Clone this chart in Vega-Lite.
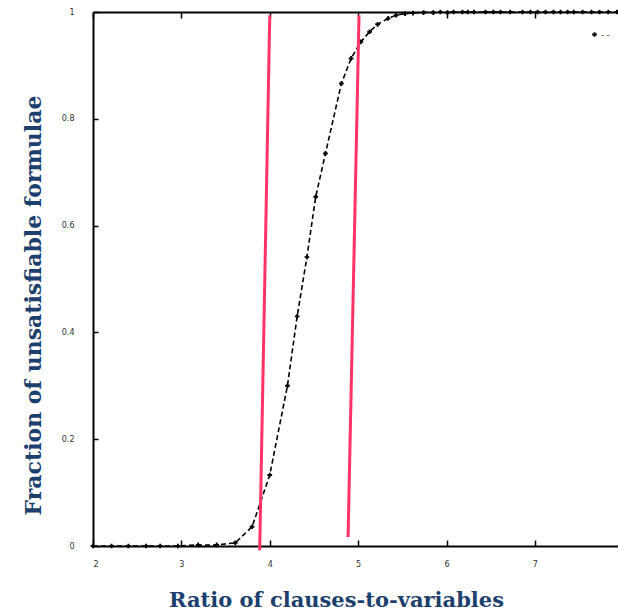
{
  "$schema": "https://vega.github.io/schema/vega-lite/v6.json",
  "width": 525,
  "height": 534,
  "autosize": {"type": "none"},
  "padding": {"left": 93, "top": 12, "right": 0, "bottom": 67},
  "background": "white",
  "config": {"view": {"stroke": null}},
  "datasets": {
    "curve": [
      {"ratio": 2.0, "frac": 0.0}, {"ratio": 2.21, "frac": 0.0}, {"ratio": 2.4, "frac": 0.0},
      {"ratio": 2.6, "frac": 0.0}, {"ratio": 2.76, "frac": 0.0}, {"ratio": 2.96, "frac": 0.0},
      {"ratio": 3.19, "frac": 0.002}, {"ratio": 3.4, "frac": 0.002}, {"ratio": 3.61, "frac": 0.006},
      {"ratio": 3.8, "frac": 0.036}, {"ratio": 4.0, "frac": 0.133}, {"ratio": 4.2, "frac": 0.3},
      {"ratio": 4.31, "frac": 0.43}, {"ratio": 4.42, "frac": 0.541}, {"ratio": 4.52, "frac": 0.654},
      {"ratio": 4.63, "frac": 0.735}, {"ratio": 4.81, "frac": 0.866}, {"ratio": 4.92, "frac": 0.913},
      {"ratio": 5.03, "frac": 0.944}, {"ratio": 5.13, "frac": 0.963}, {"ratio": 5.22, "frac": 0.977},
      {"ratio": 5.34, "frac": 0.988}, {"ratio": 5.43, "frac": 0.994}, {"ratio": 5.53, "frac": 0.997},
      {"ratio": 5.62, "frac": 0.998}, {"ratio": 5.74, "frac": 0.999}, {"ratio": 5.85, "frac": 0.999},
      {"ratio": 5.93, "frac": 1.0}, {"ratio": 6.01, "frac": 0.999}, {"ratio": 6.08, "frac": 1.0},
      {"ratio": 6.18, "frac": 1.0}, {"ratio": 6.24, "frac": 1.0}, {"ratio": 6.31, "frac": 1.0},
      {"ratio": 6.44, "frac": 1.0}, {"ratio": 6.53, "frac": 1.0}, {"ratio": 6.61, "frac": 1.0},
      {"ratio": 6.72, "frac": 1.0}, {"ratio": 6.86, "frac": 1.0}, {"ratio": 6.95, "frac": 1.0},
      {"ratio": 7.03, "frac": 1.0}, {"ratio": 7.12, "frac": 1.0}, {"ratio": 7.21, "frac": 1.0},
      {"ratio": 7.29, "frac": 1.0}, {"ratio": 7.37, "frac": 1.0}, {"ratio": 7.44, "frac": 1.0},
      {"ratio": 7.54, "frac": 1.0}, {"ratio": 7.64, "frac": 1.0}, {"ratio": 7.73, "frac": 1.0},
      {"ratio": 7.83, "frac": 1.0}, {"ratio": 7.93, "frac": 1.0}
    ],
    "redlines": [
      {"xa": 4.0, "ya": 0.994, "xb": 3.886, "yb": -0.008},
      {"xa": 5.01, "ya": 0.994, "xb": 4.886, "yb": 0.017}
    ]
  },
  "layer": [
    {
      "data": {"name": "curve"},
      "mark": {"type": "line", "color": "black", "strokeWidth": 1.6, "strokeDash": [5, 3], "clip": false},
      "encoding": {
        "x": {
          "field": "ratio", "type": "quantitative",
          "scale": {"domain": [2, 7.94], "nice": false, "zero": false},
          "axis": {
            "title": "Ratio of clauses-to-variables",
            "values": [2, 3, 4, 5, 6, 7],
            "format": "d",
            "grid": false,
            "domainColor": "black", "domainWidth": 2,
            "tickColor": "black", "tickWidth": 1.5, "tickSize": -6,
            "labelFontSize": 8, "labelColor": "#333", "labelPadding": 20, "labelFont": "DejaVu Sans",
            "titleFont": "DejaVu Serif", "titleFontSize": 21, "titleFontWeight": "bold", "titleColor": "#1c3f6e",
            "titleX": 243, "titleY": 54, "titleBaseline": "middle", "titleAlign": "center"
          }
        },
        "y": {
          "field": "frac", "type": "quantitative",
          "scale": {"domain": [0, 1], "nice": false},
          "axis": {
            "title": "Fraction of unsatisfiable formulae",
            "values": [0, 0.2, 0.4, 0.6, 0.8, 1],
            "labelExpr": "datum.value == 0 ? '0' : datum.value == 1 ? '1' : format(datum.value, '.1f')",
            "grid": false,
            "domainColor": "black", "domainWidth": 2,
            "tickColor": "black", "tickWidth": 1.5, "tickSize": -5,
            "labelFontSize": 8, "labelColor": "#333", "labelPadding": 24, "labelFont": "DejaVu Sans",
            "titleFont": "DejaVu Serif", "titleFontSize": 22, "titleFontWeight": "bold", "titleColor": "#1c3f6e",
            "titleX": -60, "titleY": 293, "titleBaseline": "middle", "titleAlign": "center", "titleAngle": -90
          }
        }
      }
    },
    {
      "data": {"name": "curve"},
      "mark": {"type": "point", "shape": "cross", "filled": true, "size": 22, "opacity": 1},
      "encoding": {
        "x": {"field": "ratio", "type": "quantitative", "axis": null},
        "y": {"field": "frac", "type": "quantitative"},
        "color": {
          "datum": "unsat",
          "scale": {"range": ["black"]},
          "legend": {
            "orient": "none", "legendX": 497, "legendY": 18,
            "title": null, "labelExpr": "'- -'", "labelFontSize": 9, "labelColor": "#333", "labelOffset": 2,
            "symbolType": "cross", "symbolSize": 22, "symbolFillColor": "black", "symbolStrokeWidth": 0
          }
        }
      }
    },
    {
      "data": {"name": "curve"},
      "mark": {"type": "point", "opacity": 0},
      "encoding": {
        "x": {"field": "ratio", "type": "quantitative", "axis": {"orient": "top", "title": null, "labels": false, "values": [2, 3, 4, 5, 6, 7], "grid": false, "domainColor": "black", "domainWidth": 2, "tickColor": "black", "tickWidth": 1.5, "tickSize": -6}},
        "y": {"field": "frac", "type": "quantitative"}
      }
    },
    {
      "data": {"name": "redlines"},
      "mark": {"type": "rule", "color": "#ff3366", "strokeWidth": 3, "clip": false},
      "encoding": {
        "x": {"field": "xa", "type": "quantitative", "axis": null},
        "y": {"field": "ya", "type": "quantitative"},
        "x2": {"field": "xb"},
        "y2": {"field": "yb"}
      }
    }
  ],
  "resolve": {"axis": {"x": "independent"}}
}
